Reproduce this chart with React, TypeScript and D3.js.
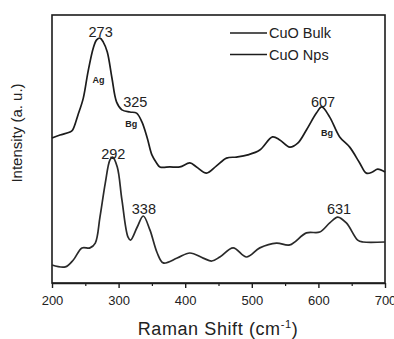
import { useEffect, useRef } from 'react';
import * as d3 from 'd3';

const W = 394;
const H = 339;
const M = { top: 15, right: 9, bottom: 56, left: 52 };

// Raman shift (cm-1) / intensity (a. u.)
const bulkShift = [200, 212, 227, 231, 239, 247, 254, 262, 267, 272, 277, 283, 290, 297, 305, 317, 327, 335, 343, 350, 357, 362, 377, 392, 407, 417, 432, 447, 462, 477, 494, 512, 531, 542, 557, 569, 582, 597, 605, 617, 632, 647, 662, 672, 681, 689, 700];
const bulkIntensity = [54.1, 55.2, 56.3, 57.1, 62.7, 69.0, 78.7, 87.7, 90.7, 91.4, 89.9, 86.2, 76.5, 67.5, 64.6, 63.8, 63.4, 60.1, 54.1, 47.8, 44.8, 43.3, 43.3, 43.3, 44.8, 43.3, 41.0, 43.7, 46.6, 47.0, 47.8, 49.6, 54.5, 53.4, 50.7, 52.2, 57.1, 63.4, 65.7, 61.9, 54.5, 50.7, 44.8, 41.0, 41.4, 42.5, 41.4];

const npsShift = [200, 220, 232, 245, 257, 265, 272, 280, 287, 291, 298, 305, 314, 318, 328, 337, 347, 358, 367, 388, 407, 427, 440, 452, 472, 492, 512, 537, 557, 582, 602, 617, 629, 642, 659, 667, 700];
const npsIntensity = [6.7, 6.0, 8.6, 13.1, 13.1, 14.9, 24.6, 37.3, 45.9, 47.0, 43.3, 31.0, 17.2, 16.0, 20.9, 25.0, 19.8, 11.2, 7.5, 9.3, 11.2, 9.3, 8.2, 9.7, 13.1, 9.7, 13.1, 14.9, 14.2, 18.7, 19.0, 22.4, 24.6, 22.4, 16.0, 15.3, 15.3];

const seriesNames = ['CuO Bulk', 'CuO Nps'];
const bulkPeaks = [273, 325, 607];
const npsPeaks = [292, 338, 631];
const bulkModes = ['Ag', 'Bg', 'Bg'];

const majorTicks = [200, 300, 400, 500, 600, 700];
const minorTicks = [250, 350, 450, 550, 650];

const FONT = 'Arial, "Liberation Sans", sans-serif';
const INK = '#1c1c1c';

function valueAt(xs: number[], ys: number[], v: number) {
  const i = Math.max(1, Math.min(xs.length - 1, d3.bisectLeft(xs, v)));
  const t = (v - xs[i - 1]) / (xs[i] - xs[i - 1]);
  return ys[i - 1] + t * (ys[i] - ys[i - 1]);
}

export default function App() {
  const axisBottomRef = useRef<SVGGElement>(null);
  const minorRef = useRef<SVGGElement>(null);

  const x = d3.scaleLinear().domain([200, 700]).range([M.left, W - M.right]);
  const y = d3.scaleLinear().domain([0, 100]).range([H - M.bottom, M.top]);

  const path = (xs: number[], ys: number[]) =>
    d3
      .line<number>()
      .x((d) => x(d))
      .y((_, i) => y(ys[i]))
      .curve(d3.curveCatmullRom.alpha(0.5))(xs) || '';

  useEffect(() => {
    const ax = d3.select(axisBottomRef.current!);
    ax.call(d3.axisBottom(x).tickValues(majorTicks).tickSize(5).tickSizeOuter(0).tickPadding(8));
    ax.select('.domain').attr('stroke', INK).attr('stroke-width', 1.6);
    ax.selectAll('.tick line').attr('stroke', INK).attr('stroke-width', 1.4);
    ax.selectAll('.tick text').attr('font-size', 13).attr('font-family', FONT).attr('fill', '#222');
    const mn = d3.select(minorRef.current!);
    mn.call(d3.axisBottom(x).tickValues(minorTicks).tickSize(3).tickFormat(() => ''));
    mn.select('.domain').remove();
    mn.selectAll('.tick line').attr('stroke', INK).attr('stroke-width', 1.2);
  }, []);

  const bottom = H - M.bottom;
  const bulkDy = [-2, -6, -2];
  const npsDy = [1, -3, -4];
  const modeDy = [44, 14, 27];
  const modeDx = [-2, -4, 4];

  return (
    <svg width={W} height={H} style={{ position: 'absolute', left: 0, top: 0, background: '#fff' }}>
      <rect x={M.left} y={M.top} width={W - M.left - M.right} height={bottom - M.top} fill="none" stroke={INK} strokeWidth={1.6} />
      <path d={path(bulkShift, bulkIntensity)} fill="none" stroke={INK} strokeWidth={1.7} />
      <path d={path(npsShift, npsIntensity)} fill="none" stroke="#2a2a2a" strokeWidth={1.7} />

      <g fontFamily={FONT} fill="#222" textAnchor="middle">
        {bulkPeaks.map((p, i) => (
          <text key={'b' + p} x={x(p)} y={y(valueAt(bulkShift, bulkIntensity, p)) + bulkDy[i]} fontSize={14.5}>
            {p}
          </text>
        ))}
        {npsPeaks.map((p, i) => (
          <text key={'n' + p} x={x(p)} y={y(valueAt(npsShift, npsIntensity, p)) + npsDy[i]} fontSize={14.5}>
            {p}
          </text>
        ))}
        {bulkModes.map((m, i) => (
          <text
            key={'m' + i}
            x={x(bulkPeaks[i]) + modeDx[i]}
            y={y(valueAt(bulkShift, bulkIntensity, bulkPeaks[i])) + modeDy[i]}
            fontSize={9}
            fontWeight="bold"
          >
            {m}
          </text>
        ))}
      </g>

      <g ref={axisBottomRef} transform={`translate(0,${bottom})`} />
      <g ref={minorRef} transform={`translate(0,${bottom})`} />

      <g fontFamily={FONT} fontSize={14.5} fill="#222">
        {seriesNames.map((s, i) => (
          <g key={s} transform={`translate(230,${33 + i * 21.5})`}>
            <line x1={0} x2={37} stroke={INK} strokeWidth={1.6} />
            <text x={39} dy="0.35em">{s}</text>
          </g>
        ))}
      </g>

      <text
        transform={`translate(22,133) rotate(-90)`}
        textAnchor="middle"
        fontFamily={FONT}
        fontSize={15}
        fill="#222"
      >
        Intensity (a. u.)
      </text>
      <text x={218} y={335} textAnchor="middle" fontFamily={FONT} fontSize={18} fill="#222" letterSpacing={0.6}>
        Raman Shift (cm<tspan dy={-7} fontSize={11}>-1</tspan>
        <tspan dy={7}>)</tspan>
      </text>
    </svg>
  );
}
